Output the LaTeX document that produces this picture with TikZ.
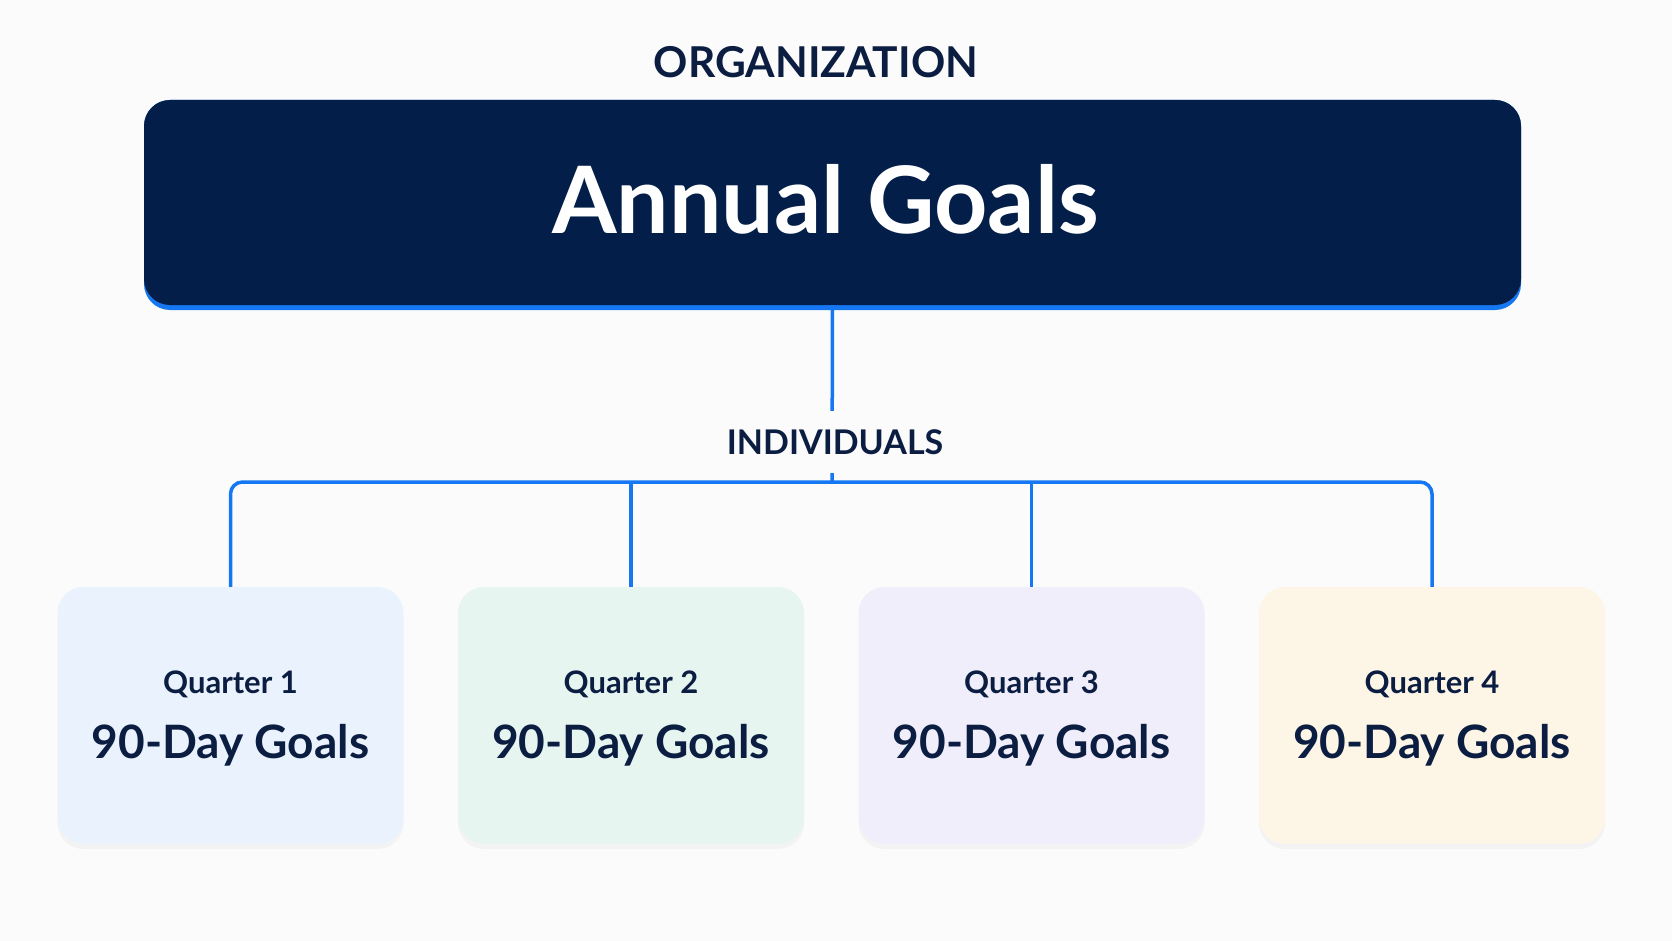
\documentclass[tikz,border=0pt]{standalone}
\usepackage{fontspec}
\setmainfont{Lato}
\usetikzlibrary{shadows}
\definecolor{navy}{RGB}{3,30,72}
\definecolor{ink}{RGB}{11,30,66}
\definecolor{linkblue}{RGB}{22,119,242}
\definecolor{paper}{RGB}{251,251,252}
\definecolor{qone}{RGB}{234,243,253}
\definecolor{qtwo}{RGB}{231,245,241}
\definecolor{qthree}{RGB}{240,238,251}
\definecolor{qfour}{RGB}{253,245,230}
\begin{document}
\begin{tikzpicture}[x=1pt,y=-1pt,
  conn/.style={linkblue,line width=3.5pt},
  card/.style={rounded corners=26pt,minimum width=346pt,minimum height=257pt,
    inner sep=0pt,drop shadow={opacity=.06,shadow xshift=0pt,shadow yshift=-5pt}},
  heading/.style={ink,font=\fontsize{#1}{#1}\selectfont\bfseries}]
\fill[paper] (0,0) rectangle (1672,941);
\useasboundingbox (0,0) rectangle (1672,941);
\node[heading=42.5] (org) at (816,62) {ORGANIZATION};
% blue edge under the big box
\fill[linkblue,rounded corners=26pt] (144,100) rectangle (1521,310);
\node[fill=navy,rounded corners=26pt,minimum width=1377pt,minimum height=205pt,
  inner sep=0pt] (annual) at (832.5,202.5) {};
\node[white,font=\fontsize{93}{93}\selectfont\bfseries] (annuallbl)
  at ([xshift=-7pt,yshift=3pt]annual.center) {Annual Goals};
\foreach \i/\x/\c in {1/230.5/qone,2/631/qtwo,3/1031.5/qthree,4/1432/qfour}{
  \node[card,fill=\c] (q\i) at (\x,715.5) {};
  \node[heading=31,anchor=base] (q\i top) at ([yshift=22.5pt]q\i.center) {Quarter \i};
  \node[heading=46,anchor=base] (q\i goal) at ([yshift=-42.5pt]q\i.center) {90-Day Goals};
}
\coordinate (hub) at (832,482);
\draw[conn] (annual.south) -- (hub);
\draw[conn,rounded corners=12pt] (q1.north) |- (hub) -| (q4.north);
\draw[conn] (q2.north) -- (q2.north |- hub);
\draw[conn] (q3.north) -- (q3.north |- hub);
\node[heading=34,fill=paper,minimum height=62pt,inner xsep=2pt] (indiv) at (835,442) {INDIVIDUALS};
\end{tikzpicture}
\end{document}
